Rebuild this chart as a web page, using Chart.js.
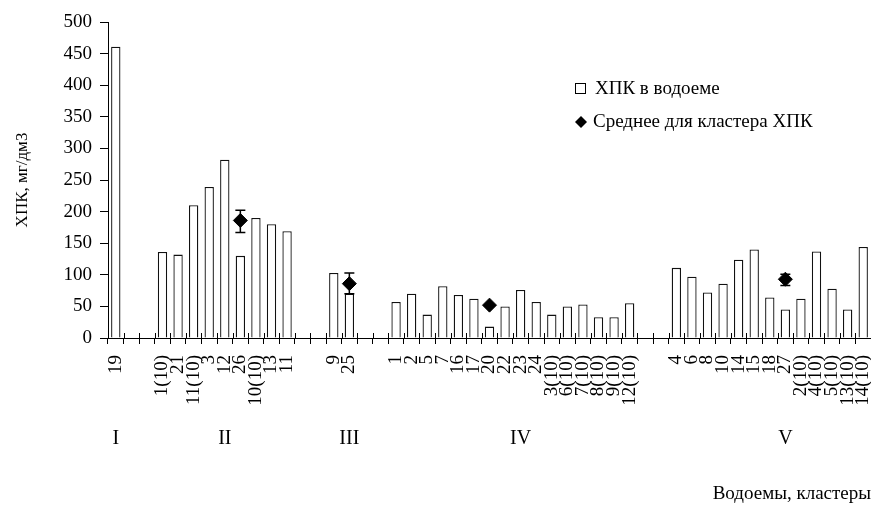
<!DOCTYPE html>
<html>
<head>
<meta charset="utf-8">
<title>ХПК</title>
<script src="https://cdn.jsdelivr.net/npm/chart.js@4/dist/chart.umd.min.js"></script>
<style>
    body { margin: 0; background: #fff; }
    #wrap { width: 871px; height: 505px; }
</style>
</head>
<body>
<div id="wrap"><canvas id="codChart" width="871" height="505"></canvas></div>
<script>
// ? data
var categories = [
    "19", "", "",
    "1(10)", "21", "11(10)", "3", "12", "26", "10(10)", "13", "11", "", "",
    "9", "25", "", "",
    "1", "2", "5", "7", "16", "17", "20", "22", "23", "24",
    "3(10)", "6(10)", "7(10)", "8(10)", "9(10)", "12(10)", "", "",
    "4", "6", "8", "10", "14", "15", "18", "27",
    "2(10)", "4(10)", "5(10)", "13(10)", "14(10)",
];

var codValues = [
    461, null, null,
    136, 132, 210, 239, 282, 130, 190, 180, 169, null, null,
    103, 70, null, null,
    57, 70, 37, 82, 68, 62, 18, 50, 76, 57,
    37, 50, 53, 33, 33, 55, null, null,
    111, 97, 72, 86, 124, 140, 64, 45,
    62, 137, 78, 45, 144,
];

// cluster means (diamonds) and their error bars
var meanValues = [];
var meanLow = [];
var meanHigh = [];
for (var i = 0; i < categories.length; i++) {
    meanValues.push(null);
    meanLow.push(null);
    meanHigh.push(null);
}
meanValues[8] = 186;  meanLow[8] = 167;  meanHigh[8] = 202;
meanValues[15] = 86;  meanLow[15] = 70;  meanHigh[15] = 103;
meanValues[24] = 52;
meanValues[43] = 93;  meanLow[43] = 83;  meanHigh[43] = 101;

var clusterLabels = [
    "I", "", "", "", "", "", "", "II", "", "", "", "", "", "", "", "III",
    "", "", "", "", "", "", "", "", "", "", "IV", "", "", "", "", "", "",
    "", "", "", "", "", "", "", "", "", "", "V", "", "", "", "", "",
];

var yTicks = [0, 50, 100, 150, 200, 250, 300, 350, 400, 450, 500];

var legendNames = ["ХПК в водоеме", "Среднее для кластера ХПК"];

Chart.defaults.font.family = '"Liberation Serif", "Times New Roman", serif';
Chart.defaults.font.size = 19;
Chart.defaults.color = "#000";

//! error bars, crossing x ticks and the legend
var extras = {
    id: "extras",
    afterDatasetsDraw: function (chart) {
        var ctx = chart.ctx;
        var xs = chart.scales.x;
        var ys = chart.scales.y;
        ctx.save();
        ctx.strokeStyle = "#000";
        ctx.lineWidth = 1.5;
        for (var i = 0; i < meanLow.length; i++) {
            if (meanLow[i] === null) continue;
            var px = xs.getPixelForValue(i);
            var lo = ys.getPixelForValue(meanLow[i]);
            var hi = ys.getPixelForValue(meanHigh[i]);
            ctx.beginPath();
            ctx.moveTo(px, lo);
            ctx.lineTo(px, hi);
            ctx.moveTo(px - 5, lo);
            ctx.lineTo(px + 5, lo);
            ctx.moveTo(px - 5, hi);
            ctx.lineTo(px + 5, hi);
            ctx.stroke();
        }
        // small tick part above the x axis
        ctx.lineWidth = 1;
        var step = xs.getPixelForTick(1) - xs.getPixelForTick(0);
        for (var k = 0; k <= categories.length; k++) {
            var tx = Math.round(xs.getPixelForTick(0) - step / 2 + k * step) + 0.5;
            ctx.beginPath();
            ctx.moveTo(tx, ys.bottom - 5);
            ctx.lineTo(tx, ys.bottom);
            ctx.stroke();
        }
        ctx.restore();
    },
    afterDraw: function (chart) {
        var ctx = chart.ctx;
        ctx.save();
        ctx.fillStyle = "#000";
        ctx.strokeStyle = "#000";
        ctx.lineWidth = 1;
        ctx.font = '19px "Liberation Serif", "Times New Roman", serif';
        ctx.textBaseline = "middle";
        ctx.textAlign = "left";
        ctx.strokeRect(575.5, 83.5, 10, 10);
        ctx.fillText(legendNames[0], 595, 89);
        ctx.beginPath();
        ctx.moveTo(581, 116);
        ctx.lineTo(587, 122);
        ctx.lineTo(581, 128);
        ctx.lineTo(575, 122);
        ctx.closePath();
        ctx.fill();
        ctx.fillText(legendNames[1], 593, 122);
        ctx.restore();
    },
};

let codChartElem = document.querySelector("#codChart");
let codChart = new Chart(codChartElem, {
    type: "bar",
    data: {
        labels: categories,
        datasets: [
            {
                type: "line",
                label: legendNames[1],
                data: meanValues,
                showLine: false,
                pointStyle: "rectRot",
                pointRadius: 7,
                pointBackgroundColor: "#000",
                pointBorderColor: "#000",
                pointBorderWidth: 1,
                order: 0,
            },
            {
                label: legendNames[0],
                data: codValues,
                backgroundColor: "#fff",
                borderColor: "#111",
                borderWidth: 1.3,
                barPercentage: 0.6,
                categoryPercentage: 1,
                order: 1,
            },
        ],
    },
    plugins: [extras],
    options: {
        responsive: false,
        animation: false,
        devicePixelRatio: 1,
        layout: {
            autoPadding: false,
            padding: { top: 22, right: 0, bottom: 0, left: 0 },
        },
        scales: {
            x: {
                weight: 0,
                offset: true,
                grid: {
                    offset: true,
                    drawOnChartArea: false,
                    color: "#000",
                    tickLength: 6,
                },
                border: { color: "#000", width: 1 },
                ticks: {
                    autoSkip: false,
                    maxRotation: 90,
                    minRotation: 90,
                    padding: 11,
                },
                afterFit: function (scale) {
                    scale.height = 82;
                    scale.paddingLeft = 0;
                    scale.paddingRight = 0;
                },
            },
            x2: {
                type: "category",
                position: "bottom",
                weight: 1,
                labels: clusterLabels,
                offset: true,
                grid: { display: false, drawTicks: false },
                border: { display: false },
                ticks: {
                    autoSkip: false,
                    maxRotation: 0,
                    minRotation: 0,
                    padding: 7,
                    font: { size: 20 },
                },
                title: {
                    display: true,
                    text: "Водоемы, кластеры",
                    align: "end",
                    padding: { top: 0, bottom: 0 },
                },
                afterFit: function (scale) {
                    scale.height = 85;
                    scale.paddingLeft = 0;
                    scale.paddingRight = 0;
                },
            },
            y: {
                min: 0,
                max: 500,
                afterBuildTicks: function (scale) {
                    scale.ticks = yTicks.map(function (v) {
                        return { value: v };
                    });
                },
                grid: {
                    drawOnChartArea: false,
                    color: "#000",
                    tickLength: 8,
                },
                border: { color: "#000", width: 1 },
                ticks: { padding: 8 },
                title: {
                    display: true,
                    text: "ХПК, мг/дм3",
                    font: { size: 17 },
                    padding: { top: 12, bottom: 0 },
                },
                afterFit: function (scale) {
                    scale.width = 108;
                },
            },
        },
        plugins: {
            legend: { display: false },
            tooltip: { enabled: false },
        },
    },
});
</script>
</body>
</html>
